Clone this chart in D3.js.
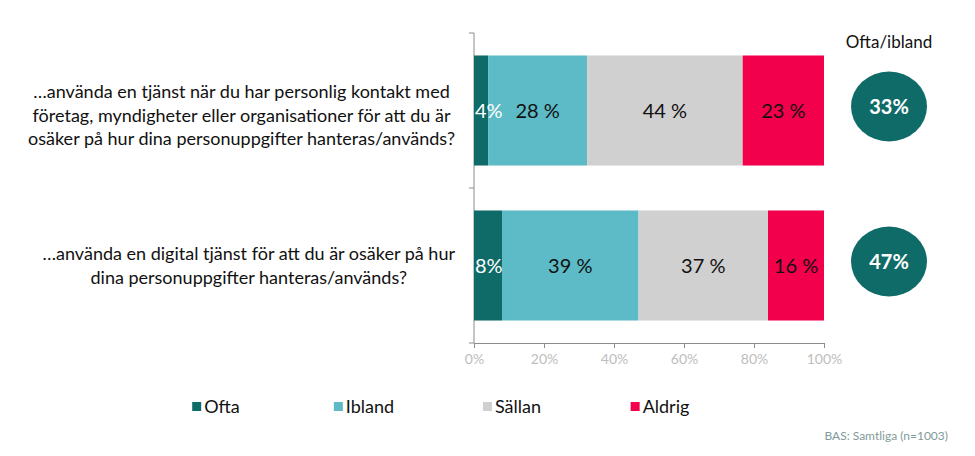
<!DOCTYPE html>
<html><head><meta charset="utf-8">
<script src="https://cdn.jsdelivr.net/npm/d3@7"></script>
<style>body{margin:0;background:#fff}svg{display:block;font-family:Lato,"Open Sans",sans-serif}</style>
</head><body>
<svg id="c" width="975" height="456"></svg>
<script>
const categories = [
  ["…använda en tjänst när du har personlig kontakt med","företag, myndigheter eller organisationer för att du är","osäker på hur dina personuppgifter hanteras/används?"],
  ["…använda en digital tjänst för att du är osäker på hur","dina personuppgifter hanteras/används?"]
];
const seriesNames = ["Ofta","Ibland","Sällan","Aldrig"];
const ofta   = [4, 8];
const ibland = [28, 39];
const sallan = [44, 37];
const aldrig = [23, 16];
const oftaIbland = [33, 47];
const xTicks = [0, 0.2, 0.4, 0.6, 0.8, 1];
const colors = ["#0f6b68","#5cbbc6","#d0d0d0","#f2004c"];
const labelColors = ["#ffffff","#111","#111","#111"];

const svg = d3.select("#c");
const x = d3.scaleLinear().domain([0,1]).range([474,824]);
const y = d3.scaleBand().domain(d3.range(categories.length)).range([33,343]).paddingInner(0.29).paddingOuter(0.145);

const rows = categories.map((c,i)=>({i, Ofta:ofta[i], Ibland:ibland[i], Sällan:sallan[i], Aldrig:aldrig[i]}));
const stack = d3.stack().keys(seriesNames).offset(d3.stackOffsetExpand)(rows);

// axes
svg.append("g").attr("transform","translate(0,343)")
  .call(d3.axisBottom(x).tickValues(xTicks).tickFormat(d3.format(".0%")).tickSize(5).tickSizeOuter(0))
  .call(g=>{g.select(".domain").attr("stroke","#8c8c8c");g.selectAll(".tick line").attr("stroke","#8c8c8c");
    g.selectAll("text").attr("fill","#bdbdbd").attr("font-size",14).attr("dy","0.9em").attr("font-family","Lato");});
const yEdges = [33,188,343];
const yl = svg.append("g");
yl.append("line").attr("x1",474).attr("x2",474).attr("y1",33).attr("y2",343).attr("stroke","#8c8c8c");
yl.selectAll("line.t").data(yEdges).join("line").attr("class","t").attr("x1",469).attr("x2",474).attr("y1",d=>d).attr("y2",d=>d).attr("stroke","#8c8c8c");

// bars
const barG = svg.append("g");
const labG = svg.append("g");
stack.forEach((s,k)=>{
  barG.append("g").selectAll("rect").data(s).join("rect")
    .attr("x",d=>x(d[0])).attr("width",d=>x(d[1])-x(d[0]))
    .attr("y",(d,i)=>y(i)).attr("height",y.bandwidth()).attr("fill",colors[k]);
  const vals = [ofta,ibland,sallan,aldrig][k];
  labG.append("g").selectAll("text").data(s).join("text")
    .attr("y",(d,i)=>y(i)+y.bandwidth()/2).attr("dy","0.35em")
    .attr("text-anchor","middle").attr("font-size",20).attr("fill",labelColors[k])
    .text((d,i)=> k===0 ? vals[i]+"%" : vals[i]+" %")
    .attr("x",function(d){const w=this.getComputedTextLength();const cx=(x(d[0])+x(d[1]))/2;return Math.max(cx, x(d[0])+w/2+1);});
});

// category labels
categories.forEach((lines,i)=>{
  const g = svg.append("g");
  const lh = 23.5;
  const cy = y(i)+y.bandwidth()/2 + (i===0?5:0);
  const t = g.selectAll("text").data(lines).join("text")
    .attr("font-size",18).attr("fill","#111").attr("text-anchor","middle")
    .attr("y",(d,j)=>cy+(j-(lines.length-1)/2)*lh).attr("dy","0.35em").text(d=>d);
  let maxW=0; t.each(function(){maxW=Math.max(maxW,this.getComputedTextLength());});
  t.attr("x",455-maxW/2);
});

// Ofta/ibland circles
svg.append("text").attr("x",889).attr("y",42).attr("dy","0.35em").attr("text-anchor","middle").attr("font-size",17).attr("fill","#111").text("Ofta/ibland");
const cg = svg.append("g");
cg.selectAll("ellipse").data(oftaIbland).join("ellipse")
  .attr("cx",889).attr("cy",(d,i)=>y(i)+y.bandwidth()/2-4).attr("rx",38).attr("ry",35).attr("fill","#0f6b68");
cg.selectAll("text").data(oftaIbland).join("text")
  .attr("x",889).attr("y",(d,i)=>y(i)+y.bandwidth()/2-4).attr("dy","0.35em").attr("text-anchor","middle")
  .attr("font-size",20).attr("font-weight","bold").attr("fill","#fff").text(d=>d+"%");

// legend
const lg = svg.append("g");
seriesNames.forEach((n,k)=>{
  const cx = 216 + k*148;
  const g = lg.append("g");
  const t = g.append("text").attr("y",407).attr("dy","0.35em").attr("font-size",18).attr("fill","#111").text(n);
  const w = t.node().getComputedTextLength();
  const total = 9+3+w;
  const x0 = cx - total/2;
  g.append("rect").attr("x",x0).attr("y",402).attr("width",9).attr("height",9).attr("fill",colors[k]);
  t.attr("x",x0+12);
});

svg.append("text").attr("x",948).attr("y",436).attr("dy","0.35em").attr("text-anchor","end").attr("font-size",12).attr("fill","#7f9a9a").text("BAS: Samtliga (n=1003)");
</script>
</body></html>
